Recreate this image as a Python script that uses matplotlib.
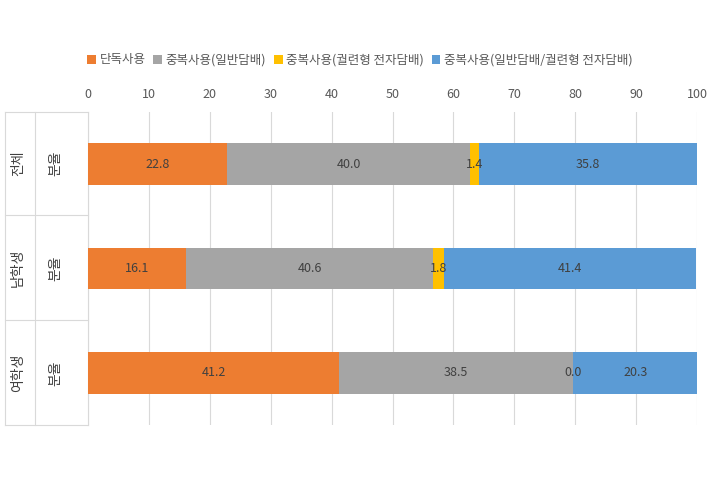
import matplotlib
matplotlib.use("Agg")
import matplotlib.pyplot as plt
from matplotlib.lines import Line2D

plt.rcParams['font.family'] = ['Noto Sans CJK KR', 'DejaVu Sans']

groups = ["전체", "남학생", "여학생"]
sub = "분율"
series = ["단독사용", "중복사용(일반담배)", "중복사용(궐련형 전자담배)", "중복사용(일반담배/궐련형 전자담배)"]
values = [
    [22.8, 16.1, 41.2],
    [40.0, 40.6, 38.5],
    [1.4, 1.8, 0.0],
    [35.8, 41.4, 20.3],
]
colors = ["#ED7D31", "#A5A5A5", "#FFC000", "#5B9BD5"]

fig = plt.figure(figsize=(7.2, 4.8), dpi=100)
ax = fig.add_axes([88/720, 1-425/480, (697-88)/720, (425-112)/480])
ypos = [0, 1, 2]
left = [0, 0, 0]
for s, vals, c in zip(series, values, colors):
    ax.barh(ypos, vals, left=left, height=0.4, color=c, label=s, zorder=3)
    for y, v, l in zip(ypos, vals, left):
        ax.text(l + v/2, y, f"{v:.1f}", ha="center", va="center", fontsize=9, color="#404040", zorder=4)
    left = [a + b for a, b in zip(left, vals)]

ax.set_xlim(0, 100)
ax.set_ylim(2.5, -0.5)
ax.set_xticks(range(0, 101, 10))
ax.xaxis.tick_top()
ax.tick_params(axis='x', length=0, labelsize=9, colors="#595959", pad=8)
ax.set_yticks([])
ax.grid(axis='x', color="#D9D9D9", linewidth=0.8, zorder=0)
for sp in ax.spines.values():
    sp.set_visible(False)
ax.spines['left'].set_visible(True)
ax.spines['left'].set_color("#D9D9D9")

for i, g in enumerate(groups):
    yc = 1 - (163 + 105*i)/480
    fig.text(18/720, yc, g, rotation=90, ha="center", va="center", fontsize=10, color="#404040")
    fig.text(55/720, yc, sub, rotation=90, ha="center", va="center", fontsize=10, color="#404040")
for yy in [112, 215, 320, 425]:
    fig.add_artist(Line2D([5/720, 88/720], [1-yy/480, 1-yy/480], color="#D9D9D9", lw=0.8))
fig.add_artist(Line2D([5/720, 5/720], [1-112/480, 1-425/480], color="#D9D9D9", lw=0.8))
fig.add_artist(Line2D([35/720, 35/720], [1-112/480, 1-425/480], color="#D9D9D9", lw=0.8))

fig.legend(loc="center", bbox_to_anchor=(0.5, 1-60/480), ncol=4, frameon=False,
           fontsize=9, handlelength=0.7, handleheight=0.7, columnspacing=0.6, handletextpad=0.3,
           labelcolor="#595959")
fig.savefig("out.png", dpi=100, facecolor="white")
